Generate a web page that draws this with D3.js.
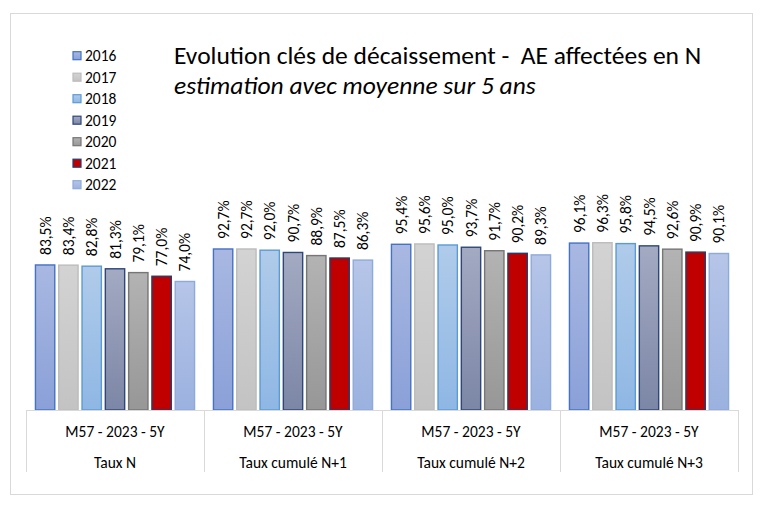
<!DOCTYPE html>
<html><head><meta charset="utf-8">
<script src="https://cdn.jsdelivr.net/npm/d3@7/dist/d3.min.js"></script>
<style>body{margin:0;background:#fff}svg{display:block}text{font-family:Carlito,Calibri,Lato,sans-serif;fill:#000;white-space:pre}</style>
</head><body><svg id="c" width="764" height="507"></svg>
<script>
const years = ["2016","2017","2018","2019","2020","2021","2022"];
const groups = ["Taux N","Taux cumulé N+1","Taux cumulé N+2","Taux cumulé N+3"];
const subLabel = "M57 - 2023 - 5Y";
const tauxN  = [83.5,83.4,82.8,81.3,79.1,77.0,74.0];
const tauxN1 = [92.7,92.7,92.0,90.7,88.9,87.5,86.3];
const tauxN2 = [95.4,95.6,95.0,93.7,91.7,90.2,89.3];
const tauxN3 = [96.1,96.3,95.8,94.5,92.6,90.9,90.1];
const series = [tauxN, tauxN1, tauxN2, tauxN3];
const title1 = "Evolution clés de décaissement -  AE affectées en N";
const title2 = "estimation avec moyenne sur 5 ans";

const styles = [
  {top:"#a9b8e2", bot:"#8aa0d8", stroke:"#4472c4"},
  {top:"#d3d3d3", bot:"#c3c3c3", stroke:"#bcbcbc"},
  {top:"#b0cbea", bot:"#8fb7e4", stroke:"#5b9bd5"},
  {top:"#a3aac2", bot:"#7c86a6", stroke:"#2f4778"},
  {top:"#b3b3b3", bot:"#979797", stroke:"#767676"},
  {top:"#c00000", bot:"#c00000", stroke:"#263b6a"},
  {top:"#b6c5e8", bot:"#9bb1df", stroke:"#8eaadb"}
];

const svg = d3.select("#c");
const defs = svg.append("defs");
styles.forEach((s,i)=>{
  const g = defs.append("linearGradient").attr("id","g"+i).attr("x1",0).attr("y1",0).attr("x2",0).attr("y2",1);
  g.append("stop").attr("offset","0%").attr("stop-color",s.top);
  g.append("stop").attr("offset","100%").attr("stop-color",s.bot);
});

// chart border
svg.append("rect").attr("x",10.5).attr("y",13.5).attr("width",742).attr("height",481)
  .attr("fill","#fff").attr("stroke","#d9d9d9");

const x0 = d3.scaleBand().domain(groups).range([26,738]).padding(0);
const x1 = d3.scaleBand().domain(years).range([0,x0.bandwidth()]).paddingInner(0.17).paddingOuter(0.405);
const y = d3.scaleLinear().domain([0,100]).range([410,236.3]);

const fmt = v => d3.format(".1f")(v).replace(".",",") + "%";

groups.forEach((gname,gi)=>{
  const g = svg.append("g").attr("transform",`translate(${x0(gname)},0)`);
  g.selectAll("rect").data(series[gi]).join("rect")
    .attr("x",(d,i)=>x1(years[i]))
    .attr("y",d=>y(d))
    .attr("width",x1.bandwidth())
    .attr("height",d=>y(0)-y(d))
    .attr("fill",(d,i)=>`url(#g${i})`)
    .attr("stroke",(d,i)=>styles[i].stroke)
    .attr("stroke-width",1.4);
  g.selectAll("text.lbl").data(series[gi]).join("text").attr("class","lbl")
    .attr("transform",(d,i)=>`translate(${x1(years[i])+x1.bandwidth()/2},${y(d)-10}) rotate(-90)`)
    .attr("dy","0.36em")
    .attr("font-size","15.5px")
    .text(d=>fmt(d));
});

// category axis
const ax = svg.append("g");
ax.append("line").attr("x1",26).attr("x2",738).attr("y1",410.5).attr("y2",410.5).attr("stroke","#d9d9d9");
x0.domain().concat(["_end"]).forEach((gname,i)=>{
  const xx = i<groups.length ? x0(gname) : x0.range()[1];
  ax.append("line").attr("x1",Math.round(xx)+0.5).attr("x2",Math.round(xx)+0.5).attr("y1",410).attr("y2",472).attr("stroke","#d9d9d9");
});
groups.forEach(gname=>{
  const cx = x0(gname)+x0.bandwidth()/2;
  ax.append("text").attr("x",cx).attr("y",437).attr("text-anchor","middle").attr("font-size","15.5px").text(subLabel);
  ax.append("text").attr("x",cx).attr("y",468).attr("text-anchor","middle").attr("font-size","15.5px").text(gname);
});

// legend
const lg = svg.append("g");
years.forEach((yr,i)=>{
  const cy = 55.7 + i*21.5;
  lg.append("rect").attr("x",73).attr("y",cy-4).attr("width",8).attr("height",8)
    .attr("fill",`url(#g${i})`).attr("stroke",styles[i].stroke).attr("stroke-width",1.2);
  lg.append("text").attr("x",85).attr("y",cy).attr("dy","0.36em").attr("font-size","15.5px").text(yr);
});

// titles
svg.append("text").attr("x",174).attr("y",64).attr("font-size","25.5px").text(title1);
svg.append("text").attr("x",174).attr("y",94).attr("font-size","25.5px").attr("font-style","italic").text(title2);
</script></body></html>
